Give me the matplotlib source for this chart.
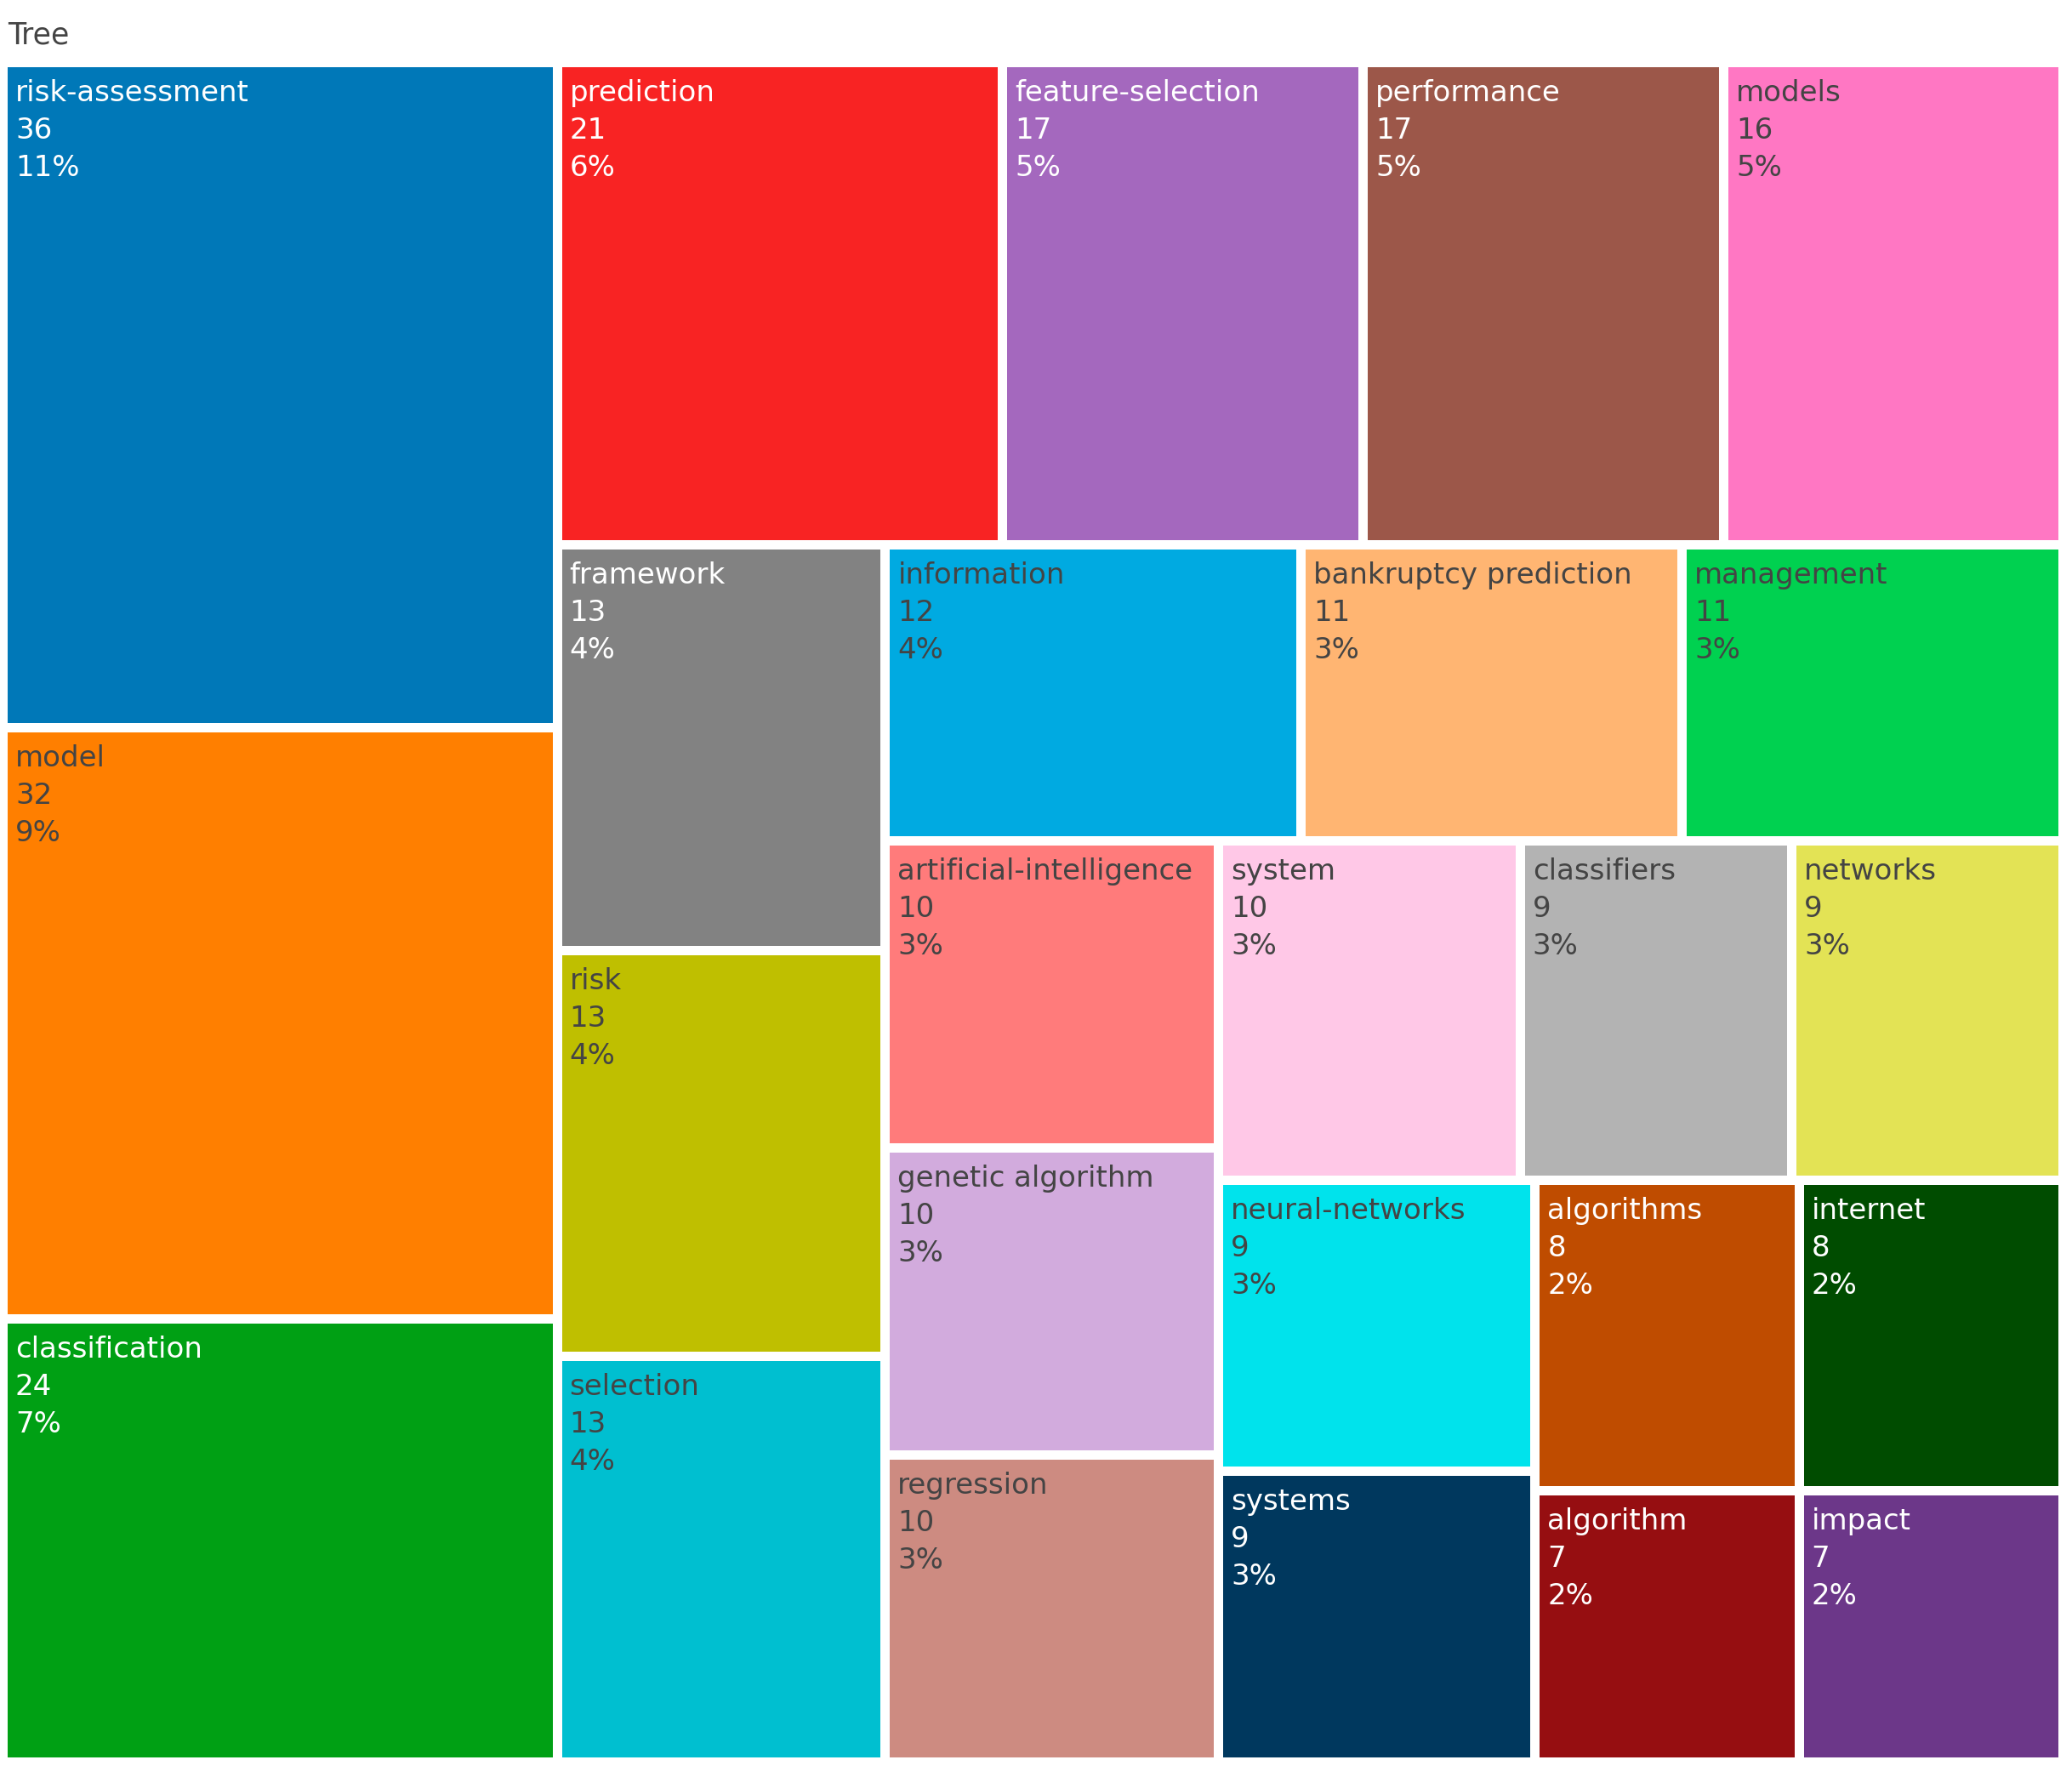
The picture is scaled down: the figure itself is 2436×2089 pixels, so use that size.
import matplotlib.pyplot as plt
from matplotlib.patches import Rectangle

# Data
labels = ["risk-assessment", "model", "classification", "prediction", "feature-selection",
          "performance", "models", "framework", "risk", "selection", "information",
          "bankruptcy prediction", "management", "artificial-intelligence",
          "genetic algorithm", "regression", "system", "classifiers", "networks",
          "neural-networks", "systems", "algorithms", "internet", "algorithm", "impact"]
values = [36, 32, 24, 21, 17, 17, 16, 13, 13, 13, 12, 11, 11, 10, 10, 10, 10, 9, 9, 9, 9,
          8, 8, 7, 7]
colors = ["#0078b8", "#ff7f00", "#00a014", "#f82323", "#a468be", "#9c5749", "#ff77c3",
          "#828282", "#bfbf00", "#00bfd0", "#00aae1", "#ffb572", "#00d150", "#ff7b7b",
          "#d2abdd", "#cd8b81", "#ffc8e7", "#b3b3b3", "#e3e355", "#00e3ec", "#00385e",
          "#bf4c00", "#004c00", "#960e11", "#6c3789"]
white_text = {"risk-assessment", "classification", "prediction", "feature-selection",
              "performance", "framework", "systems", "algorithms", "internet",
              "algorithm", "impact"}

W, H = 2436, 2089
GAP = 11


def squarify(vals, x0, y0, x1, y1, ratio=1.0):
    # d3-style squarified layout, returns list of (x0, y0, x1, y1)
    rects = []
    total = float(sum(vals))
    i0 = 0
    n = len(vals)
    while i0 < n:
        dx, dy = x1 - x0, y1 - y0
        i1 = i0 + 1
        s = vals[i0]
        vmin = vmax = s
        alpha = max(dy / dx, dx / dy) / (total * ratio)
        beta = s * s * alpha
        best = max(vmax / beta, beta / vmin)
        while i1 < n:
            v = vals[i1]
            s2 = s + v
            mn, mx = min(vmin, v), max(vmax, v)
            beta = s2 * s2 * alpha
            r = max(mx / beta, beta / mn)
            if r > best:
                break
            best, s, vmin, vmax = r, s2, mn, mx
            i1 += 1
        row = vals[i0:i1]
        if dx < dy:
            # horizontal row along the top
            ny = y0 + dy * s / total
            xx = x0
            for v in row:
                w = dx * v / s
                rects.append((xx, y0, xx + w, ny))
                xx += w
            y0 = ny
        else:
            # vertical column on the left
            nx = x0 + dx * s / total
            yy = y0
            for v in row:
                h = dy * v / s
                rects.append((x0, yy, nx, yy + h))
                yy += h
            x0 = nx
        total -= s
        i0 = i1
    return rects


fig = plt.figure(figsize=(W / 100, H / 100), dpi=100)
ax = fig.add_axes([0, 0, 1, 1])
ax.set_xlim(0, W)
ax.set_ylim(H, 0)
ax.axis("off")

# Tile area (outer edges), expanded by half a gap so inner gaps are even
left, top, right, bottom = 9, 79, 2420, 2066
rects = squarify(values, left - GAP / 2, top - GAP / 2, right + GAP / 2, bottom + GAP / 2)

total = sum(values)
for (x0, y0, x1, y1), lab, val, col in zip(rects, labels, values, colors):
    x0 += GAP / 2
    y0 += GAP / 2
    x1 -= GAP / 2
    y1 -= GAP / 2
    ax.add_patch(Rectangle((x0, y0), x1 - x0, y1 - y0, facecolor=col, edgecolor="none"))
    tc = "white" if lab in white_text else "#444444"
    lines = [lab, str(val), f"{round(100 * val / total)}%"]
    for i, t in enumerate(lines):
        ax.text(x0 + 9, y0 + 40 + i * 44, t, fontsize=24.5, color=tc,
                ha="left", va="baseline", family="DejaVu Sans")

# Title
ax.text(9, 51, "Tree", fontsize=25, color="#444444", ha="left", va="baseline",
        family="DejaVu Sans")

fig.savefig("out.png", dpi=100, facecolor="white")
